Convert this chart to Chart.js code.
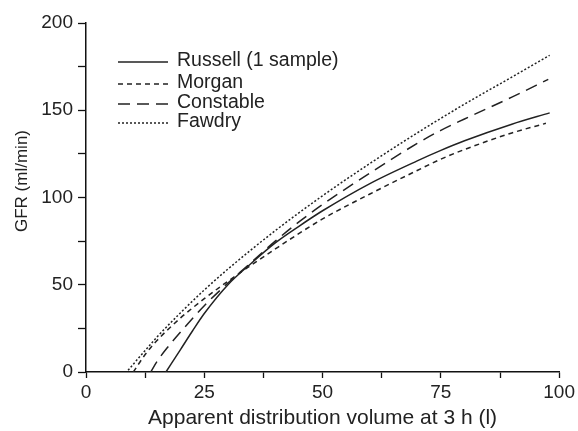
<!DOCTYPE html>
<html>
<head>
<meta charset="utf-8">
<script src="https://cdn.jsdelivr.net/npm/chart.js@4.4.1/dist/chart.umd.min.js"></script>
<style>
  html, body { margin: 0; padding: 0; background: #fff; }
  #wrap { width: 578px; height: 431px; }
</style>
</head>
<body>
<div id="wrap"><canvas id="gfr-chart" width="578" height="431"></canvas></div>
<script>
// values (volume in l, GFR in ml/min)
let russellX = [16.9, 20, 22.5, 25, 30, 35, 40, 45, 50, 60, 70, 75, 80, 90, 98];
let russellY = [0, 13, 23.5, 33.5, 50, 62.5, 74, 83.5, 92.4, 108, 121, 127, 132.5, 142, 148.5];

let morganX = [10, 12.5, 15, 20, 25, 30, 40, 50, 60, 70, 75, 80, 90, 97.2];
let morganY = [0, 10, 18, 31, 42, 52, 70.5, 87.7, 102, 115.5, 122, 127.5, 137, 142.5];

let constableX = [13.7, 15, 17.5, 20, 25, 30, 35, 40, 45, 50, 60, 70, 75, 80, 90, 97.7];
let constableY = [0, 6, 15, 23, 38, 51, 63, 75, 86, 96, 114, 131, 138.5, 145, 157.5, 167.7];

let fawdryX = [8.9, 10, 15, 20, 25, 30, 40, 50, 60, 70, 80, 90, 98];
let fawdryY = [1, 4.5, 20, 34, 47, 59, 81, 101, 119.5, 137, 153.5, 169, 181.5];

let seriesNames = ['Russell (1 sample)', 'Morgan', 'Constable', 'Fawdry'];
let xTitle = 'Apparent distribution volume at 3 h (l)';
let yTitle = 'GFR (ml/min)';

let FONT = '"Liberation Sans", Arial, Helvetica, sans-serif';
let INK = '#222';

function pts(xs, ys){
  let out = [];
  for (let i = 0; i < xs.length; i++) out.push({x: xs[i], y: ys[i]});
  return out;
}

let dashes = [[], [5, 4], [12, 7], [2, 2]];

function makeSet(label, xs, ys, dash){
  return {
    label: label,
    data: pts(xs, ys),
    borderColor: INK,
    borderWidth: 1.5,
    borderDash: dash,
    pointRadius: 0,
    fill: false,
    cubicInterpolationMode: 'monotone'
  };
}

// legend + y title drawn by hand so they sit where the original has them
const extras = {
  id: 'extras',
  afterDraw(chart){
    const ctx = chart.ctx;
    ctx.save();
    ctx.font = '19.5px ' + FONT;
    ctx.fillStyle = INK;
    ctx.strokeStyle = INK;
    ctx.lineWidth = 1.5;
    ctx.textBaseline = 'middle';
    let rows = [61, 83, 103, 122];
    for (let i = 0; i < seriesNames.length; i++) {
      ctx.setLineDash(dashes[i]);
      ctx.beginPath();
      ctx.moveTo(118, rows[i] + 1);
      ctx.lineTo(168, rows[i] + 1);
      ctx.stroke();
      ctx.setLineDash([]);
      ctx.fillText(seriesNames[i], 177, rows[i]);
    }
    ctx.font = '17px ' + FONT;
    ctx.translate(22, 181);
    ctx.rotate(-Math.PI / 2);
    ctx.textAlign = 'center';
    ctx.fillText(yTitle, 0, 0);
    ctx.restore();
  }
};

document.addEventListener('DOMContentLoaded', function() {
  var ctx = document.getElementById('gfr-chart').getContext('2d');
  var myChart = new Chart(ctx, {
    type: 'line',
    data: {
      datasets: [
        makeSet(seriesNames[0], russellX, russellY, dashes[0]),
        makeSet(seriesNames[1], morganX, morganY, dashes[1]),
        makeSet(seriesNames[2], constableX, constableY, dashes[2]),
        makeSet(seriesNames[3], fawdryX, fawdryY, dashes[3])
      ]
    },
    options: {
      responsive: false,
      animation: false,
      layout: { padding: { top: 23, right: 18, bottom: 0, left: 0 } },
      plugins: {
        legend: { display: false },
        tooltip: { enabled: false }
      },
      scales: {
        x: {
          type: 'linear',
          min: 0,
          max: 100,
          afterFit: function(s){ s.height = 59; },
          border: { color: '#111', width: 1.5 },
          grid: { drawOnChartArea: false, drawTicks: true, tickLength: 6, tickColor: '#111', tickWidth: 1.3 },
          ticks: {
            stepSize: 12.5,
            padding: 3,
            maxRotation: 0,
            autoSkip: false,
            color: INK,
            font: { family: FONT, size: 19 },
            callback: function(v){ return v % 25 === 0 ? v : ''; }
          },
          title: {
            display: true,
            text: xTitle,
            color: INK,
            font: { family: FONT, size: 21 },
            padding: { top: 0, bottom: 0 }
          }
        },
        y: {
          min: 0,
          max: 200,
          afterFit: function(s){ s.width = 86; },
          border: { color: '#111', width: 1.5 },
          grid: { drawOnChartArea: false, drawTicks: true, tickLength: 8, tickColor: '#111', tickWidth: 1.3 },
          ticks: {
            stepSize: 25,
            padding: 5,
            autoSkip: false,
            color: INK,
            font: { family: FONT, size: 19 },
            callback: function(v){ return v % 50 === 0 ? v : ''; }
          }
        }
      }
    },
    plugins: [extras]
  });
});
</script>
</body>
</html>
